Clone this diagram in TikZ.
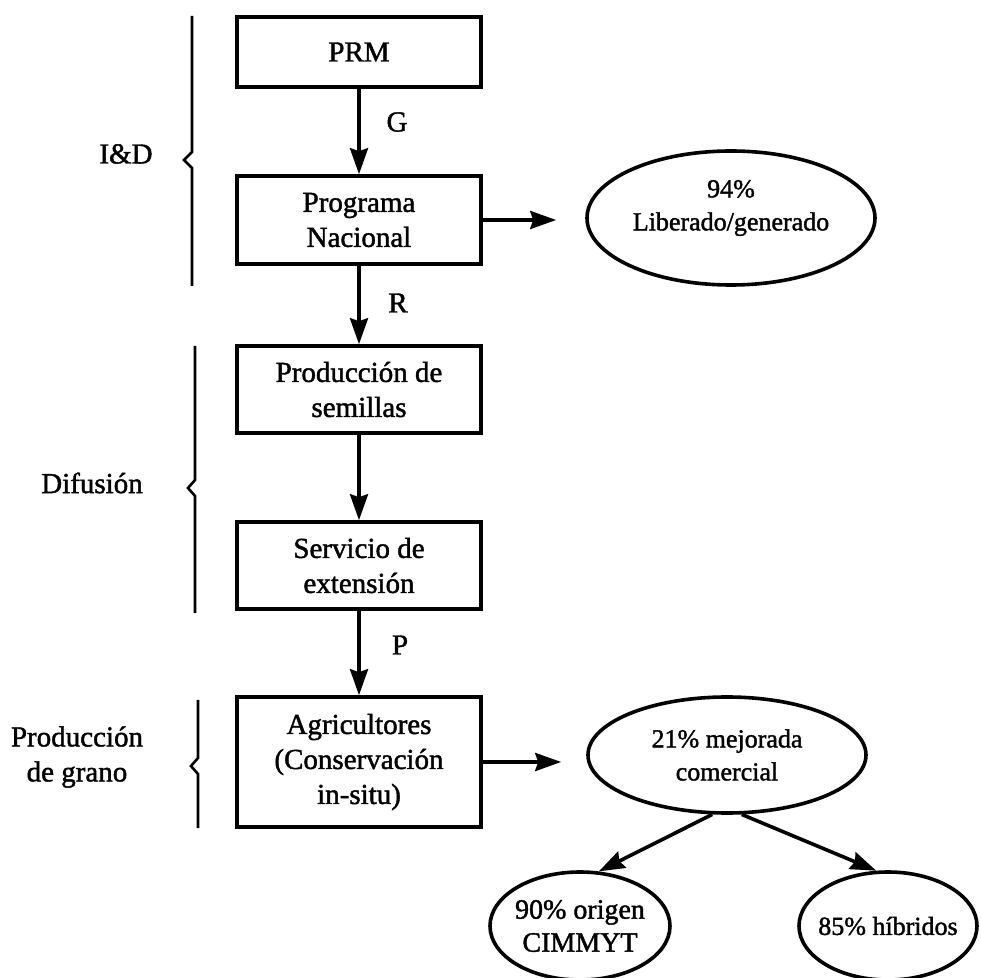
\documentclass[tikz,border=0pt]{standalone}
\usepackage{fontspec}
\setmainfont{Liberation Serif}[FakeBold=1.5]
\usetikzlibrary{arrows.meta,shapes.geometric}
\begin{document}
\begin{tikzpicture}[x=0.5pt,y=-0.5pt,
  every node/.style={font=\fontsize{14.5}{17.5}\selectfont},
  box/.style={draw,line width=1.8pt,minimum width=122pt,inner sep=0pt,align=center},
  oval/.style={draw,ellipse,line width=1.8pt,inner sep=0pt},
  ovaltext/.style={align=center,font=\fontsize{13}{16.5}\selectfont},
  arr/.style={line width=1.8pt,-{Stealth[length=13pt,width=9pt,inset=1.5pt]}},
  brace/.style={line width=1.3pt,line join=miter},
  tag/.style={align=center}]
\fill[white] (0,0) rectangle (981,978);
\useasboundingbox (0,0) rectangle (981,978);

% main chain of stages
\node[box,minimum height=35pt]   (prm)  at (359,52)    {PRM};
\node[box,minimum height=44pt]   (prog) at (359,220)   {Programa\\Nacional};
\node[box,minimum height=43.5pt] (sem)  at (359,389.5) {Producción de\\semillas};
\node[box,minimum height=43.5pt] (ext)  at (359,565.5) {Servicio de\\extensión};
\node[box,minimum height=65pt]   (agr)  at (359,762)   {Agricultores\\(Conservación\\in-situ)};

% result ovals
\node[oval,minimum width=144pt,minimum height=67pt,
      label={[ovaltext,yshift=5pt]center:94\%\\Liberado/generado}] (e94) at (731,218) {};
\node[oval,minimum width=139pt,minimum height=58pt,
      label={[ovaltext]center:21\% mejorada\\comercial}] (e21) at (727,755) {};
\node[oval,minimum width=90pt,minimum height=54pt,
      label={[ovaltext,font=\fontsize{14}{16.5}\selectfont]center:90\% origen\\CIMMYT}] (e90) at (580,926) {};
\node[oval,minimum width=89pt,minimum height=54pt,
      label={[ovaltext]center:85\% híbridos}] (e85) at (888,926) {};

% vertical flow
\draw[arr] (prm) -- (prog);
\draw[arr] (prog) -- (sem);
\draw[arr] (sem) -- (ext);
\draw[arr] (ext) -- (agr);
\node (lg) at (397,122) {G};
\node (lr) at (398,303) {R};
\node (lp) at (400,645) {P};

% side arrows towards the ovals
\coordinate (t94) at ([xshift=-14.5pt]e94.west);
\coordinate (t21) at ([xshift=-12.5pt]e21.west);
\draw[arr] (prog.east) -- (prog.east -| t94);
\draw[arr] (agr.east) -- (agr.east -| t21);
\draw[arr] (e21.256) -- (e90.71);
\draw[arr] (e21.284) -- (e85.102);

% group braces
\draw[brace] (192,16) -- (192,152) -- (184,160) -- (192,168) -- (192,286);
\draw[brace] (195,346) -- (195,480) -- (188,488) -- (195,496) -- (195,613);
\draw[brace] (198,700) -- (198,758) -- (191,766) -- (198,774) -- (198,828);
\node[tag] (lid)  at (126,154) {I\&D};
\node[tag] (ldif) at (92,483)  {Difusión};
\node[tag] (lgr)  at (77,757)  {Producción\\de grano};
\end{tikzpicture}
\end{document}
